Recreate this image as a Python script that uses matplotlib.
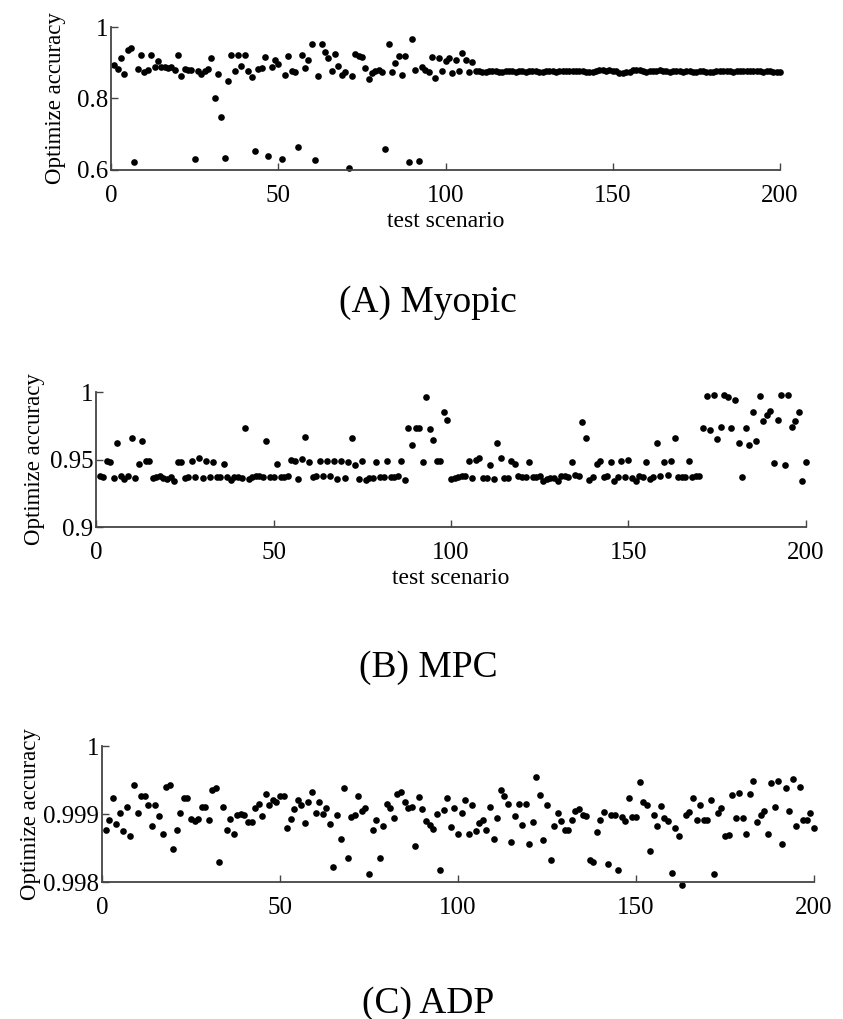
import numpy as np
import matplotlib
matplotlib.use("Agg")
import matplotlib.pyplot as plt

plt.rcParams['font.family'] = ['Liberation Serif', 'DejaVu Serif']

# (A) Myopic: accuracy per test scenario (1..200)
myopic = [
    0.893, 0.882, 0.912, 0.868, 0.935, 0.941, 0.621, 0.882, 0.923, 0.873,
    0.880, 0.921, 0.887, 0.904, 0.888, 0.888, 0.886, 0.887, 0.879, 0.923,
    0.863, 0.883, 0.880, 0.880, 0.631, 0.877, 0.868, 0.878, 0.882, 0.913,
    0.800, 0.869, 0.748, 0.633, 0.849, 0.922, 0.877, 0.922, 0.892, 0.921,
    0.876, 0.860, 0.653, 0.882, 0.884, 0.916, 0.640, 0.887, 0.907, 0.897,
    0.631, 0.866, 0.920, 0.877, 0.873, 0.664, 0.923, 0.884, 0.907, 0.953,
    0.627, 0.863, 0.953, 0.929, 0.912, 0.876, 0.925, 0.891, 0.867, 0.875,
    0.606, 0.863, 0.925, 0.918, 0.916, 0.885, 0.855, 0.870, 0.877, 0.879,
    0.875, 0.658, 0.952, 0.875, 0.898, 0.920, 0.866, 0.920, 0.621, 0.966,
    0.881, 0.626, 0.888, 0.881, 0.873, 0.916, 0.858, 0.914, 0.878, 0.905,
    0.913, 0.871, 0.909, 0.876, 0.928, 0.909, 0.875, 0.901, 0.876, 0.877,
    0.875, 0.874, 0.876, 0.877, 0.876, 0.874, 0.875, 0.877, 0.878, 0.876,
    0.875, 0.877, 0.876, 0.874, 0.876, 0.878, 0.877, 0.875, 0.874, 0.876,
    0.877, 0.876, 0.875, 0.877, 0.878, 0.878, 0.877, 0.877, 0.876, 0.878,
    0.876, 0.875, 0.873, 0.875, 0.878, 0.879, 0.879, 0.878, 0.880, 0.877,
    0.876, 0.872, 0.870, 0.873, 0.875, 0.879, 0.880, 0.880, 0.877, 0.875,
    0.878, 0.877, 0.876, 0.879, 0.878, 0.876, 0.875, 0.877, 0.878, 0.876,
    0.875, 0.876, 0.877, 0.875, 0.874, 0.876, 0.877, 0.875, 0.873, 0.875,
    0.876, 0.876, 0.877, 0.876, 0.876, 0.875, 0.876, 0.877, 0.876, 0.876,
    0.877, 0.878, 0.877, 0.876, 0.875, 0.877, 0.876, 0.875, 0.874, 0.875,
]

# (B) MPC
mpc = [
    0.9378, 0.9368, 0.9486, 0.9480, 0.9363, 0.9620, 0.9378, 0.9355, 0.9378, 0.9660,
    0.9360, 0.9470, 0.9640, 0.9486, 0.9490, 0.9360, 0.9370, 0.9378, 0.9360, 0.9355,
    0.9370, 0.9340, 0.9480, 0.9480, 0.9360, 0.9370, 0.9490, 0.9370, 0.9510, 0.9360,
    0.9490, 0.9370, 0.9480, 0.9370, 0.9370, 0.9470, 0.9370, 0.9350, 0.9370, 0.9370,
    0.9360, 0.9736, 0.9356, 0.9370, 0.9375, 0.9378, 0.9370, 0.9640, 0.9370, 0.9370,
    0.9470, 0.9370, 0.9370, 0.9375, 0.9500, 0.9490, 0.9353, 0.9506, 0.9670, 0.9480,
    0.9368, 0.9380, 0.9490, 0.9375, 0.9490, 0.9380, 0.9490, 0.9356, 0.9490, 0.9360,
    0.9480, 0.9660, 0.9460, 0.9356, 0.9486, 0.9350, 0.9360, 0.9360, 0.9480, 0.9370,
    0.9370, 0.9490, 0.9370, 0.9370, 0.9380, 0.9490, 0.9350, 0.9730, 0.9610, 0.9736,
    0.9736, 0.9480, 0.9960, 0.9726, 0.9647, 0.9486, 0.9490, 0.9850, 0.9790, 0.9356,
    0.9360, 0.9370, 0.9375, 0.9378, 0.9490, 0.9360, 0.9500, 0.9510, 0.9360, 0.9360,
    0.9460, 0.9353, 0.9620, 0.9510, 0.9360, 0.9360, 0.9486, 0.9470, 0.9378, 0.9370,
    0.9370, 0.9480, 0.9370, 0.9370, 0.9378, 0.9340, 0.9356, 0.9360, 0.9360, 0.9340,
    0.9378, 0.9378, 0.9370, 0.9480, 0.9385, 0.9380, 0.9775, 0.9660, 0.9350, 0.9370,
    0.9470, 0.9490, 0.9370, 0.9375, 0.9480, 0.9340, 0.9370, 0.9486, 0.9370, 0.9496,
    0.9360, 0.9340, 0.9380, 0.9370, 0.9480, 0.9356, 0.9370, 0.9620, 0.9378, 0.9480,
    0.9385, 0.9490, 0.9660, 0.9370, 0.9370, 0.9370, 0.9486, 0.9370, 0.9375, 0.9380,
    0.9731, 0.9968, 0.9716, 0.9975, 0.9650, 0.9740, 0.9975, 0.9963, 0.9733, 0.9940,
    0.9625, 0.9370, 0.9733, 0.9610, 0.9850, 0.9635, 0.9970, 0.9788, 0.9830, 0.9862,
    0.9474, 0.9790, 0.9978, 0.9460, 0.9975, 0.9740, 0.9788, 0.9850, 0.9340, 0.9480,
]

# (C) ADP
adp = [
    0.99876, 0.99891, 0.99924, 0.99886, 0.99901, 0.99875, 0.99910, 0.99868, 0.99942, 0.99901,
    0.99926, 0.99926, 0.99914, 0.99883, 0.99914, 0.99897, 0.99870, 0.99940, 0.99943, 0.99849,
    0.99877, 0.99902, 0.99924, 0.99924, 0.99892, 0.99890, 0.99892, 0.99910, 0.99910, 0.99891,
    0.99935, 0.99938, 0.99830, 0.99911, 0.99877, 0.99892, 0.99871, 0.99899, 0.99900, 0.99899,
    0.99889, 0.99889, 0.99909, 0.99915, 0.99897, 0.99929, 0.99913, 0.99920, 0.99918, 0.99926,
    0.99926, 0.99880, 0.99893, 0.99908, 0.99920, 0.99913, 0.99887, 0.99918, 0.99932, 0.99902,
    0.99917, 0.99900, 0.99909, 0.99885, 0.99822, 0.99898, 0.99863, 0.99938, 0.99836, 0.99895,
    0.99898, 0.99926, 0.99904, 0.99909, 0.99812, 0.99877, 0.99891, 0.99836, 0.99882, 0.99915,
    0.99909, 0.99894, 0.99929, 0.99933, 0.99917, 0.99909, 0.99910, 0.99853, 0.99925, 0.99908,
    0.99890, 0.99884, 0.99878, 0.99900, 0.99817, 0.99906, 0.99923, 0.99881, 0.99909, 0.99870,
    0.99902, 0.99921, 0.99870, 0.99913, 0.99875, 0.99887, 0.99891, 0.99877, 0.99910, 0.99863,
    0.99894, 0.99936, 0.99926, 0.99915, 0.99859, 0.99897, 0.99915, 0.99884, 0.99915, 0.99856,
    0.99889, 0.99955, 0.99928, 0.99862, 0.99914, 0.99832, 0.99883, 0.99901, 0.99890, 0.99876,
    0.99876, 0.99891, 0.99904, 0.99908, 0.99898, 0.99897, 0.99833, 0.99830, 0.99873, 0.99891,
    0.99903, 0.99826, 0.99899, 0.99899, 0.99817, 0.99895, 0.99890, 0.99923, 0.99896, 0.99896,
    0.99947, 0.99917, 0.99914, 0.99845, 0.99898, 0.99883, 0.99912, 0.99894, 0.99890, 0.99813,
    0.99879, 0.99867, 0.99795, 0.99899, 0.99903, 0.99924, 0.99891, 0.99914, 0.99891, 0.99891,
    0.99921, 0.99812, 0.99902, 0.99909, 0.99867, 0.99869, 0.99928, 0.99894, 0.99931, 0.99894,
    0.99870, 0.99930, 0.99949, 0.99889, 0.99898, 0.99904, 0.99870, 0.99945, 0.99910, 0.99948,
    0.99856, 0.99938, 0.99904, 0.99952, 0.99883, 0.99940, 0.99891, 0.99891, 0.99902, 0.99880,
]

x_ticks = [0, 50, 100, 150, 200]
panels = [
    # data, ylim, yticks, yticklabels, caption, has xlabel
    (myopic, (0.6, 1.0), [0.6, 0.8, 1.0], ['0.6', '0.8', '1'], '(A) Myopic', True),
    (mpc, (0.9, 1.0), [0.9, 0.95, 1.0], ['0.9', '0.95', '1'], '(B) MPC', True),
    (adp, (0.998, 1.0), [0.998, 0.999, 1.0], ['0.998', '0.999', '1'], '(C) ADP', False),
]
# axes rectangles in figure fraction
rects = [
    [0.1317, 0.8332, 0.7936, 0.1403],
    [0.1139, 0.4828, 0.8422, 0.1325],
    [0.1210, 0.1344, 0.8446, 0.1335],
]
ylabel_x = [-0.067, -0.072, -0.085]
caption_y = [0.694, 0.336, 0.006]

fig = plt.figure(figsize=(8.43, 10.19), dpi=100)

for (vals, ylim, yt, ytl, cap, has_xl), rect, lx, cy in zip(panels, rects, ylabel_x, caption_y):
    ax = fig.add_axes(rect)
    x = np.arange(1, len(vals) + 1)
    ax.plot(x, vals, 'o', color='black', markersize=4.8, markeredgewidth=0, clip_on=False)
    ax.set_xlim(0, 200)
    ax.set_ylim(*ylim)
    ax.set_xticks(x_ticks)
    ax.set_xticklabels([str(t) for t in x_ticks])
    ax.set_yticks(yt)
    ax.set_yticklabels(ytl)
    for s in ['top', 'right']:
        ax.spines[s].set_visible(False)
    for s in ['left', 'bottom']:
        ax.spines[s].set_color('#444444')
        ax.spines[s].set_linewidth(1.3)
    ax.tick_params(axis='x', direction='in', length=5, width=1, color='#444444',
                   labelsize=18, pad=11)
    ax.tick_params(axis='y', direction='in', length=5, width=1, color='#444444',
                   labelsize=18, pad=2)
    ax.set_ylabel('Optimize accuracy', fontsize=16.5)
    ax.yaxis.set_label_coords(lx, 0.5)
    if has_xl:
        ax.set_xlabel('test scenario', fontsize=17, labelpad=3)
    fig.text(0.508, cy, cap, fontsize=27, ha='center', va='baseline')

fig.savefig('out.png', dpi=100)
